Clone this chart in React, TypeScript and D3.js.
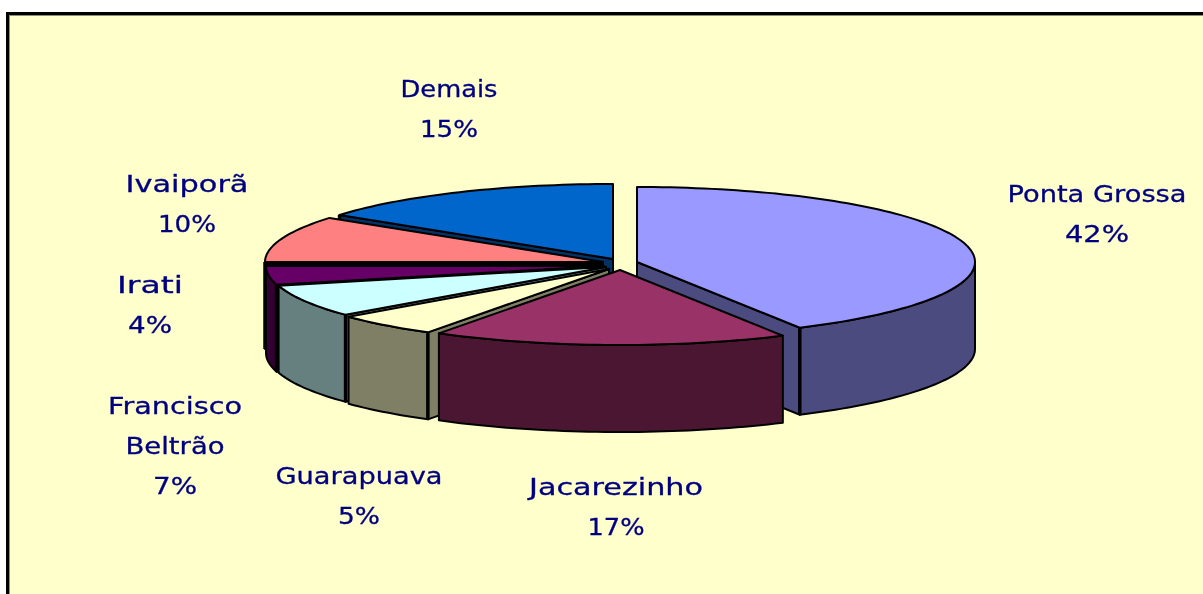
import React from "react";
import * as d3 from "d3";

const categories = ["Ponta Grossa", "Jacarezinho", "Guarapuava", "Francisco Beltrão", "Irati", "Ivaiporã", "Demais"];
const values = [42, 17, 5, 7, 4, 10, 15];
const topColors = ["#9999ff", "#993366", "#ffffcc", "#ccffff", "#660066", "#ff8080", "#0066cc"];
const wallColors = ["#4c4c7f", "#4c1933", "#7f7f66", "#667f7f", "#330033", "#000000", "#003366"];
const labelLines = [["Ponta Grossa"], ["Jacarezinho"], ["Guarapuava"], ["Francisco", "Beltrão"], ["Irati"], ["Ivaiporã"], ["Demais"]];

const W = 1203, H = 594;
const RX = 338, RY = 75, DEPTH = 87;
const CENTER = { x: 613, y: 262 };
// explosion of each slice from the pie's centre
const explode = [[24, 0], [7, 8], [-4, 7], [-7, 5], [-9, 4], [-10, 0], [0, -3]];
// label anchor (centre x, first baseline y)
const labelPos = [[1097, 202], [616, 495], [359, 484], [175, 414], [150, 293], [187, 192], [449, 97]];
// drawn width of each label's lines, the last one being the percent line
const labelWidths = [[179, 64], [174, 57], [167, 42], [134, 99, 44], [66, 44], [123, 58], [97, 58]];
// back-to-front drawing order
const order = [6, 5, 4, 3, 2, 0, 1];

const pieArcs = d3.pie<number>().sort(null).value((d) => d)(values);
const line = d3.line<[number, number]>().x((d) => d[0]).y((d) => d[1]);

export default function App() {
  const pt = (i: number, a: number, z = 0): [number, number] => [
    CENTER.x + explode[i][0] + RX * Math.sin(a),
    CENTER.y + explode[i][1] - RY * Math.cos(a) + z,
  ];
  const apex = (i: number, z = 0): [number, number] => [CENTER.x + explode[i][0], CENTER.y + explode[i][1] + z];
  const arcPts = (i: number, a0: number, a1: number, z = 0) => {
    const n = Math.max(2, Math.ceil(Math.abs(a1 - a0) * 40));
    return d3.range(n + 1).map((k) => pt(i, a0 + ((a1 - a0) * k) / n, z));
  };
  const stroke = { stroke: "#000", strokeWidth: 2, strokeLinejoin: "round" as const };

  return (
    <svg width={W} height={H} style={{ position: "absolute", left: 0, top: 0, display: "block" }}
      fontFamily="'DejaVu Sans', sans-serif">
      <defs>
        <filter id="soft" x="-5%" y="-5%" width="110%" height="110%">
          <feGaussianBlur stdDeviation="0.45" />
        </filter>
      </defs>
      <rect width={W} height={H} fill="#fff" />
      <g filter="url(#soft)">
        <rect x={7.5} y={13.5} width={W + 20} height={H + 20} fill="#ffffcc" stroke="#000" strokeWidth={3} />
        <rect x={9.5} y={15.5} width={W + 20} height={H + 20} fill="none" stroke="#8f8f78" strokeWidth={1} />
        {order.map((i) => {
          const { startAngle: a0, endAngle: a1 } = pieArcs[i];
          const faces: React.ReactNode[] = [];
          // only the cut faces that look towards the viewer are drawn
          const visible = [Math.sin(a0) < -1e-6 ? a0 : null, Math.sin(a1) > 1e-6 ? a1 : null];
          visible.forEach((a, k) => {
            if (a === null) return;
            const face = [apex(i), pt(i, a), pt(i, a, DEPTH), apex(i, DEPTH)];
            faces.push(<path key={"f" + k} d={line(face) + "Z"} fill={wallColors[i]} {...stroke} />);
          });
          // outer wall: the front half of the ellipse only
          const w0 = Math.max(a0, Math.PI / 2), w1 = Math.min(a1, (3 * Math.PI) / 2);
          if (w1 > w0) {
            const wall = [...arcPts(i, w0, w1), ...arcPts(i, w1, w0, DEPTH)];
            faces.push(<path key="w" d={line(wall) + "Z"} fill={wallColors[i]} {...stroke} />);
          }
          // the crease between a cut face and the outer wall reads as a heavier line
          visible.forEach((a, k) => {
            if (a === null) return;
            faces.push(<path key={"e" + k} d={line([pt(i, a), pt(i, a, DEPTH)]) ?? ""} fill="none" stroke="#000" strokeWidth={3.5} />);
          });
          const top = [apex(i), ...arcPts(i, a0, a1)];
          return (
            <g key={categories[i]}>
              {faces}
              <path d={line(top) + "Z"} fill={topColors[i]} {...stroke} />
            </g>
          );
        })}
        {labelLines.map((ls, i) =>
          [...ls, values[i] + "%"].map((t, k) => (
            <text key={i + "-" + k} x={labelPos[i][0]} y={labelPos[i][1] + k * 40} textAnchor="middle"
              fill="#000080" stroke="#000080" strokeWidth={0.3} fontSize={23}
              textLength={labelWidths[i][k]} lengthAdjust="spacingAndGlyphs">{t}</text>
          ))
        )}
      </g>
    </svg>
  );
}
